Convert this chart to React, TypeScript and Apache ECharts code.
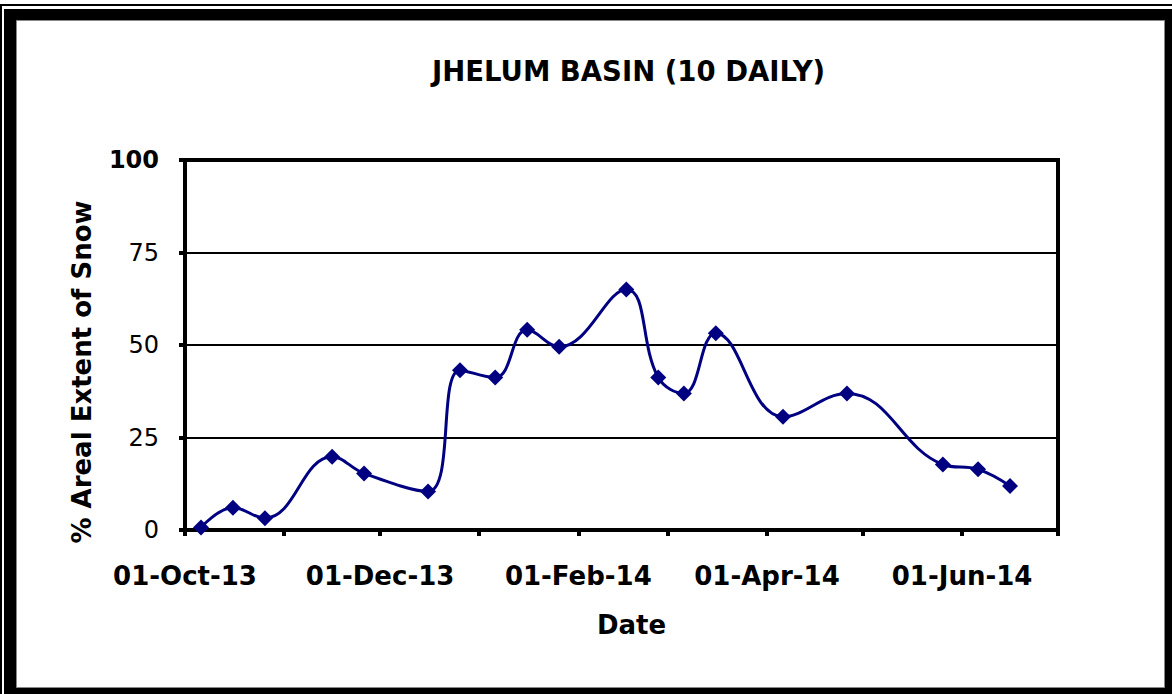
import React, { useEffect, useRef } from "react";
import * as echarts from "echarts";

const dates = [
  "2013-10-06", "2013-10-16", "2013-10-26", "2013-11-16", "2013-11-26",
  "2013-12-16", "2013-12-26", "2014-01-06", "2014-01-16", "2014-01-26",
  "2014-02-16", "2014-02-26", "2014-03-06", "2014-03-16", "2014-04-06",
  "2014-04-26", "2014-05-26", "2014-06-06", "2014-06-16",
];
const snowExtent = [
  0.7, 6.0, 3.2, 19.8, 15.3,
  10.4, 43.2, 41.2, 54.1, 49.5,
  65.0, 41.2, 36.9, 53.2, 30.6,
  36.9, 17.7, 16.4, 11.9,
];
const monthTicks = [
  "2013-10-01", "2013-11-01", "2013-12-01", "2014-01-01", "2014-02-01",
  "2014-03-01", "2014-04-01", "2014-05-01", "2014-06-01", "2014-07-01",
];
const xLabelDates = ["2013-10-01", "2013-12-01", "2014-02-01", "2014-04-01", "2014-06-01"];
const xTickLabels = ["01-Oct-13", "01-Dec-13", "01-Feb-14", "01-Apr-14", "01-Jun-14"];
const yTicks = [0, 25, 50, 75, 100];

const ts = (s: string) => {
  const [y, m, d] = s.split("-").map(Number);
  return Date.UTC(y, m - 1, d);
};

export default function App() {
  const ref = useRef<HTMLDivElement>(null);
  useEffect(() => {
    document.body.style.margin = "0";
    const chart = echarts.init(ref.current!, null, { renderer: "svg" });
    const labelTs = xLabelDates.map(ts);
    const font = "DejaVu Sans";
    chart.setOption({
      animation: false,
      backgroundColor: "#fff",
      graphic: [
        { type: "rect", silent: true, z: -10, shape: { x: 1, y: 5, width: 1180, height: 700 }, style: { fill: "none", stroke: "#000", lineWidth: 2 } },
        { type: "rect", silent: true, z: -9, shape: { x: 4, y: 9, width: 1168, height: 685 }, style: { fill: "#000" } },
        { type: "rect", silent: true, z: -8, shape: { x: 16.5, y: 20.5, width: 1148, height: 667 }, style: { fill: "#fff", stroke: "#888", lineWidth: 1 } },
      ],
      title: {
        text: "JHELUM BASIN (10 DAILY)",
        left: 432,
        top: 57,
        padding: 0,
        textStyle: { fontFamily: font, fontWeight: "bold", fontSize: 27.5, color: "#000" },
      },
      grid: {
        left: 185, right: 114, top: 160, bottom: 164,
        show: true, borderColor: "#000", borderWidth: 4, backgroundColor: "transparent",
      },
      xAxis: {
        type: "value",
        min: ts(monthTicks[0]),
        max: ts(monthTicks[monthTicks.length - 1]),
        name: "Date",
        nameLocation: "middle",
        nameGap: 82,
        nameTextStyle: { fontFamily: font, fontWeight: "bold", fontSize: 26, color: "#000", padding: [0, 0, 0, 20] },
        splitLine: { show: false },
        axisLine: { show: true, onZero: false, lineStyle: { color: "#000", width: 4 } },
        axisTick: { show: true, length: 6, inside: false, lineStyle: { color: "#000", width: 4 }, customValues: monthTicks.map(ts) },
        axisLabel: {
          customValues: labelTs,
          showMinLabel: true,
          showMaxLabel: true,
          formatter: (v: number) => {
            const i = labelTs.indexOf(v);
            return i >= 0 ? xTickLabels[i] : "";
          },
          fontFamily: font, fontWeight: "bold", fontSize: 26, color: "#000", margin: 33,
        },
      },
      yAxis: {
        type: "value",
        min: yTicks[0],
        max: yTicks[yTicks.length - 1],
        interval: 25,
        name: "% Areal Extent of Snow",
        nameLocation: "middle",
        nameGap: 90,
        nameTextStyle: { fontFamily: font, fontWeight: "bold", fontSize: 26, color: "#000", padding: [0, 54, 0, 0] },
        axisLine: { show: true, onZero: false, lineStyle: { color: "#000", width: 4 } },
        axisTick: { show: true, length: 6, inside: false, lineStyle: { color: "#000", width: 4 } },
        splitLine: { show: true, lineStyle: { color: "#000", width: 2 } },
        axisLabel: {
          margin: 26,
          formatter: (v: number) => (v === 100 ? "{b|" + v + "}" : "{n|" + v + "}"),
          rich: {
            b: { fontFamily: font, fontWeight: "bold", fontSize: 24, color: "#000" },
            n: { fontFamily: font, fontWeight: "normal", fontSize: 24, color: "#000" },
          },
        },
      },
      series: [
        {
          type: "line",
          data: dates.map((d, i) => [ts(d), snowExtent[i]]),
          smooth: 0.42,
          symbol: "diamond",
          symbolSize: 16,
          itemStyle: { color: "#000080" },
          lineStyle: { color: "#000080", width: 3 },
          z: 5,
        },
      ],
    });
    return () => chart.dispose();
  }, []);
  return <div ref={ref} style={{ position: "absolute", left: 0, top: 0, width: 1172, height: 694 }} />;
}
